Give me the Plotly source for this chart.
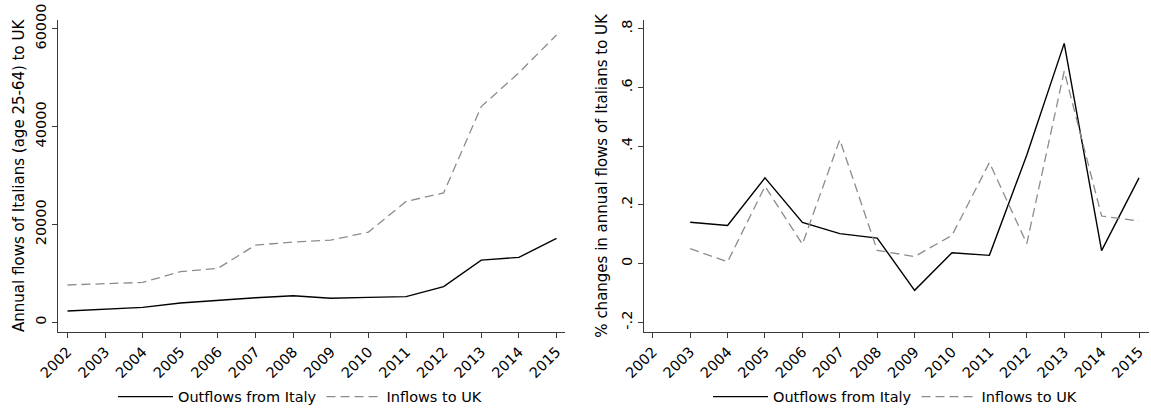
import plotly.graph_objects as go
from plotly.subplots import make_subplots

# Annual flows of Italians aged 25-64 (levels)
years = list(range(2002, 2016))
outflows_italy = [2300, 2700, 3060, 3940, 4560, 5030, 5440, 4900, 5100, 5240,
                  7280, 12720, 13270, 17140]
inflows_uk = [7620, 7960, 8160, 10340, 11020, 15780, 16390, 16800, 18430, 24700,
              26460, 44080, 51000, 58710]

# Year-on-year % changes (first year has no change)
change_years = list(range(2003, 2016))
outflows_change = [0.141, 0.130, 0.292, 0.140, 0.102, 0.087, -0.091, 0.037, 0.028,
                   0.370, 0.750, 0.044, 0.292]
inflows_change = [0.051, 0.006, 0.263, 0.066, 0.422, 0.045, 0.024, 0.096, 0.344,
                  0.068, 0.655, 0.162, 0.145]

level_ticks = [0, 20000, 40000, 60000]
change_ticks = [-0.2, 0, 0.2, 0.4, 0.6, 0.8]
change_tick_text = ["-.2", "0", ".2", ".4", ".6", ".8"]

W, H = 1151, 409
FONT = "DejaVu Sans"
AXIS_COLOR = "#3a3a3a"
SOLID = dict(color="black", width=1.4)
DASHED = dict(color="#8c8c8c", width=1.3, dash="9px,5px")

fig = make_subplots(rows=1, cols=2)

fig.add_trace(go.Scatter(x=years, y=outflows_italy, mode="lines", line=SOLID,
                         name="Outflows from Italy", legend="legend"), row=1, col=1)
fig.add_trace(go.Scatter(x=years, y=inflows_uk, mode="lines", line=DASHED,
                         name="Inflows to UK", legend="legend"), row=1, col=1)
fig.add_trace(go.Scatter(x=change_years, y=outflows_change, mode="lines", line=SOLID,
                         name="Outflows from Italy", legend="legend2"), row=1, col=2)
fig.add_trace(go.Scatter(x=change_years, y=inflows_change, mode="lines", line=DASHED,
                         name="Inflows to UK", legend="legend2"), row=1, col=2)


def px_x(a, b):
    return [a / W, b / W]


y_dom = [(H - 331.7) / H, (H - 20) / H]

tick_font = dict(family=FONT, size=14.5, color="black")
title_font = dict(family=FONT, size=15, color="black")

xaxis_common = dict(
    tickmode="array", tickvals=years, ticktext=[str(y) for y in years],
    tickangle=-45, ticks="outside", ticklen=5, tickcolor=AXIS_COLOR,
    showline=True, linecolor=AXIS_COLOR, linewidth=1, showgrid=False,
    zeroline=False, automargin=False, tickfont=tick_font,
)
yaxis_common = dict(
    ticks="outside", ticklen=5, tickcolor=AXIS_COLOR, tickangle=-90,
    showline=True, linecolor=AXIS_COLOR, linewidth=1, showgrid=False,
    zeroline=False, automargin=False, tickfont=tick_font,
)

legend_common = dict(
    orientation="h", xref="container", yref="container", xanchor="center",
    yanchor="middle", itemwidth=55, font=tick_font, bgcolor="rgba(0,0,0,0)",
    itemclick=False,
)

fig.update_layout(
    xaxis=dict(xaxis_common, domain=px_x(57.5, 565), range=[2001.734, 2015.226]),
    xaxis2=dict(xaxis_common, domain=px_x(643.5, 1149), range=[2001.752, 2015.267]),
    yaxis=dict(yaxis_common, domain=y_dom, range=[-1921, 61778],
               tickvals=level_ticks, ticktext=[str(v) for v in level_ticks],
               title=dict(text="Annual flows of Italians (age 25-64) to UK",
                          font=title_font, standoff=4)),
    yaxis2=dict(yaxis_common, domain=y_dom, range=[-0.232, 0.8296],
                tickvals=change_ticks, ticktext=change_tick_text,
                title=dict(text="% changes in annual flows of Italians to UK",
                           font=title_font, standoff=7)),
    legend=dict(legend_common, x=300 / W, y=(H - 396.7) / H),
    legend2=dict(legend_common, x=895 / W, y=(H - 396.7) / H),
    width=W, height=H,
    margin=dict(l=0, r=0, t=0, b=0, autoexpand=False),
    paper_bgcolor="white", plot_bgcolor="white",
    font=dict(family=FONT, size=14, color="black"),
)

fig.write_html("out.html", config={"displayModeBar": False})
